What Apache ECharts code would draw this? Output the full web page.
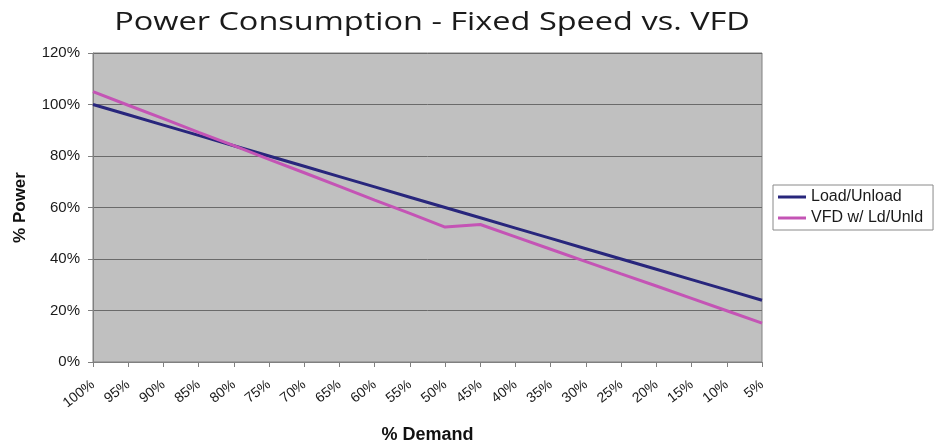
<!DOCTYPE html>
<html>
<head>
<meta charset="utf-8">
<script src="https://cdn.jsdelivr.net/npm/echarts@6/dist/echarts.min.js"></script>
<style>
  html, body { margin: 0; padding: 0; background: #fff; }
  #chart { width: 945px; height: 443px; }
</style>
</head>
<body>
<div id="chart"></div>
<script>
const demand = ['100%', '95%', '90%', '85%', '80%', '75%', '70%', '65%', '60%', '55%',
  '50%', '45%', '40%', '35%', '30%', '25%', '20%', '15%', '10%', '5%']
const loadUnload = [100, 96, 92, 88, 84, 80, 76, 72, 68, 64, 60, 56, 52, 48, 44, 40, 36, 32, 28, 24]
const vfdLdUnld = [105, 99.7, 94.5, 89.2, 84, 78.7, 73.5, 68.2, 62.9, 57.7,
  52.4, 53.4, 48.6, 43.8, 39.0, 34.2, 29.5, 24.7, 19.9, 15.1]
const seriesNames = ['Load/Unload', 'VFD w/ Ld/Unld']
const titleText = 'Power Consumption - Fixed Speed vs. VFD'

const chart = echarts.init(document.getElementById('chart'))
const axisFont = { fontFamily: 'Liberation Sans', color: '#1a1a1a' }

chart.setOption({
  animation: false,
  // title drawn as a stretched text, the source picture is wider than the font
  graphic: [{
    type: 'text',
    x: 432,
    y: 23,
    scaleX: 1.3,
    style: {
      text: titleText,
      font: '25px "Open Sans"',
      fill: '#1a1a1a',
      align: 'center',
      verticalAlign: 'middle'
    }
  }],
  grid: {
    left: 93,
    top: 53,
    right: 183,
    bottom: 81,
    outerBoundsMode: 'none',
    containLabel: false,
    show: true,
    backgroundColor: '#c0c0c0',
    borderColor: '#808080',
    borderWidth: 1
  },
  legend: {
    orient: 'vertical',
    left: 773,
    top: 185,
    padding: [4, 10, 4, 5],
    itemGap: 5,
    backgroundColor: '#fff',
    borderColor: '#8a8a8a',
    borderWidth: 1,
    borderRadius: 0,
    icon: 'rect',
    itemWidth: 28,
    itemHeight: 3,
    itemTextGap: 2,
    textStyle: { fontFamily: 'Liberation Sans', fontSize: 16, color: '#1a1a1a' },
    data: seriesNames
  },
  xAxis: {
    type: 'category',
    boundaryGap: false,
    data: demand,
    name: '% Demand',
    nameLocation: 'middle',
    nameGap: 64,
    nameTextStyle: { fontFamily: 'Liberation Sans', fontSize: 18, fontWeight: 'bold', color: '#111' },
    axisLine: { lineStyle: { color: '#808080', width: 1 } },
    axisTick: { show: true, length: 5, lineStyle: { color: '#808080' } },
    axisLabel: Object.assign({ rotate: 38, interval: 0, margin: 21, fontSize: 14 }, axisFont),
    splitLine: { show: false }
  },
  yAxis: {
    type: 'value',
    min: 0,
    max: 120,
    interval: 20,
    name: '% Power',
    nameLocation: 'middle',
    nameGap: 64,
    nameTextStyle: { fontFamily: 'Liberation Sans', fontSize: 17, fontWeight: 'bold', color: '#111' },
    axisLine: { show: true, lineStyle: { color: '#808080', width: 1 } },
    axisTick: { show: true, length: 5, lineStyle: { color: '#808080' } },
    axisLabel: Object.assign({ formatter: '{value}%', margin: 13, fontSize: 15 }, axisFont),
    splitLine: { show: true, lineStyle: { color: '#6a6a6a', width: 1 } }
  },
  series: [
    {
      name: seriesNames[0],
      type: 'line',
      data: loadUnload,
      symbol: 'none',
      lineStyle: { color: '#28267c', width: 3 },
      itemStyle: { color: '#28267c' }
    },
    {
      name: seriesNames[1],
      type: 'line',
      data: vfdLdUnld,
      symbol: 'none',
      lineStyle: { color: '#c454b5', width: 3 },
      itemStyle: { color: '#c454b5' }
    }
  ]
})
</script>
</body>
</html>
